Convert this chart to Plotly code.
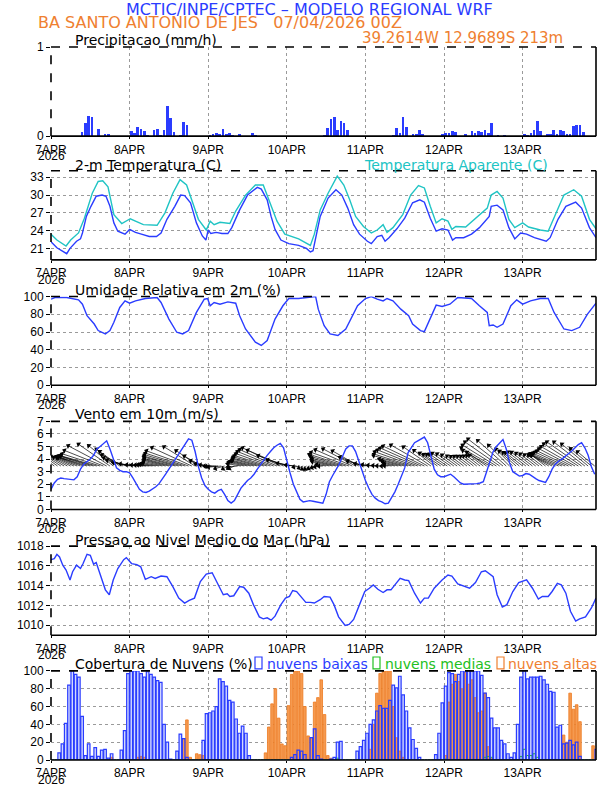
import math
import plotly.graph_objects as go

# ---------------- data ----------------
day_ticks = [0, 24, 48, 72, 96, 120, 144]
day_labels = ["7APR", "8APR", "9APR", "10APR", "11APR", "12APR", "13APR"]
year_label = "2026"
hours = list(range(167))

# precipitation (mm/h), hourly
precip_d1 = [0,0,0,0,0,0,0,0,0,0.05,0.15,0.23,0.22,0,0.08,0,0.02,0.02,0,0,0,0,0,0]
precip_d2 = [0.06,0.04,0.10,0.08,0.06,0.01,0,0.07,0.08,0.015,0.07,0.34,0.20,0.05,0,0.01,0.16,0.12,0,0,0,0,0,0]
precip_d3 = [0.01,0.02,0.03,0.02,0.08,0.02,0.04,0.01,0,0.02,0,0,0,0.03,0.01,0,0,0,0,0,0,0,0,0]
precip_d4 = [0,0,0,0,0,0,0,0,0,0,0,0.01,0.09,0.19,0.22,0.07,0.17,0.15,0.07,0,0,0,0,0]
precip_d5 = [0,0,0,0,0,0,0,0,0.01,0.09,0.04,0.22,0.10,0,0.02,0.02,0.07,0.02,0,0,0,0,0,0.02]
precip_d6 = [0.03,0.03,0.06,0.05,0,0,0.02,0,0.06,0.03,0.06,0.05,0.07,0.03,0.15,0,0.01,0,0.01,0,0,0,0,0]
precip_d7 = [0.02,0.01,0.04,0.07,0.17,0.06,0,0.02,0.02,0.07,0.02,0.07,0.06,0.02,0.02,0.11,0.13,0.13,0.05,0,0,0,0]
precip = precip_d1 + precip_d2 + precip_d3 + precip_d4 + precip_d5 + precip_d6 + precip_d7

# 2-m temperature (C)
temp_h = [0,1.8,4.8,5.8,7.8,9,9.6,10.8,12.2,13.8,15.6,16.8,18,19.2,20.4,22.6,24,25.8,27.6,30,
          32.2,33.6,35.4,37.8,39.6,40.8,42.6,44.4,46.2,47.3,48,48.8,50.4,52.2,54,55.2,57.6,60,63,64.2,
          66,67.2,68.4,70.2,72.6,75.6,78,79.2,80,81,82.2,84.6,87,88.8,90.6,92.4,94.2,96.6,97.8,99.6,
          101,102,103.2,105.6,108,110.4,112.6,114,115.8,117.6,119.4,121.2,122.6,123.6,126,128.4,130.8,133.8,134.4,136.2,
          138,139.8,141.6,143.4,145.2,147.6,151.2,152.4,154.8,157.2,160.2,162,164.4,166.4]
temp_c = [22.1,21.1,20.1,21.0,22.2,22.6,23.6,26.4,28.1,29.8,30.0,29.8,28.1,25.3,23.9,23.4,24.2,23.7,23.4,23.0,
          23.0,23.6,25.9,28.1,30.0,29.9,28.7,25.3,23.1,22.4,24.1,23.5,23.7,23.5,23.5,24.5,27.5,30.0,31.3,31.0,
          29.2,26.4,24.2,22.4,21.8,21.5,21.0,20.4,20.6,23.1,26.4,29.5,30.9,30.0,27.8,25.0,23.4,22.2,21.8,23.0,
          23.2,22.2,22.8,24.3,26.1,28.7,29.2,28.8,26.1,23.9,24.3,24.1,22.4,22.8,22.8,23.4,24.5,26.4,28.1,28.3,
          27.5,24.5,22.6,23.6,23.4,22.8,22.2,22.8,25.9,28.1,28.8,27.8,24.5,22.8]

# apparent temperature (C)
app_h = [0,1.8,4.6,6,8.4,10.2,12.6,14.4,15.8,17.4,19.2,21.6,24.2,28.2,32.4,34.8,37.2,39.4,41.4,43.2,
         45,47.4,48.6,49.8,51.6,54.6,56.4,59.4,62.4,64.8,66.6,69,71.4,75.6,79.2,80.4,82.2,84.6,87.4,89.4,
         91.2,93,95.4,97.8,99.6,101.4,102.6,104.4,107.4,109.8,112.2,114,115.8,117.6,119.4,121.2,122.4,123.6,126.6,129.6,
         133.2,134.4,136.2,138,139.8,141.6,144,145.8,149.4,151.8,154.2,156.6,159.6,162,164.4,166.4]
app_c = [23.4,22.4,21.4,22.4,23.6,26.1,30.3,32.3,32.4,31.4,26.7,25.2,26.0,25.0,24.9,27.0,30.3,32.6,31.7,28.7,
         25.9,24.1,25.6,25.0,25.4,25.2,27.3,30.0,31.7,31.7,29.2,25.6,23.4,22.6,21.5,23.4,27.5,30.3,33.2,31.7,
         29.2,26.4,24.7,23.6,24.1,25.0,23.7,24.5,26.7,30.0,31.6,31.2,28.1,25.3,26.0,25.6,24.2,24.7,24.6,26.1,
         27.8,30.0,30.6,29.5,25.9,24.5,25.3,24.6,24.1,23.9,27.0,30.0,30.9,29.8,25.9,24.3]

# relative humidity (%)
rh_h = [0,1.2,4.8,8.4,9.6,11,13.2,14.4,16.6,18,19.2,21,22.6,24,25.8,28.8,32.4,33.6,36,38.4,
        40.2,42,44.4,46.8,47.8,48.6,49.8,51.6,54,56.4,57.6,59.4,62.4,64.2,66,68.4,70.8,72.6,75.6,79.2,
        80.8,81.6,83.4,85.2,87.6,90,91.8,93.6,96,97.8,99.6,101.4,102.6,104.4,106.8,109.2,110.4,112.8,114,115.8,
        117.6,119.4,121.8,124.2,126.6,128.4,130.8,133.2,133.8,135,136.2,138,140.4,142.2,144,146.4,149.4,151.8,153.6,156.6,
        159,161.4,163.8,166.4]
rh_pct = [97,98.9,98.9,96.3,91.4,78.4,69,61.6,57.8,61.6,70.9,87.7,95.1,92.5,95.1,97.8,98.9,93.3,74.6,59.7,
          57.8,61.6,82.1,97,97.8,89.6,93.3,91.4,94,92.5,78.4,63.4,48.5,44.8,50.4,74.6,89.6,97.8,97.8,98.9,
          100,85.8,67.2,57.8,56,63.4,76.5,89.6,97.8,100,97,95.1,97.8,95.1,85.8,78.4,69,61.6,60.4,74.6,
          90.3,88.8,91.4,98.9,97.8,97.8,89.6,82.1,67.2,67.9,65.3,69,89.6,96.3,91.4,95.1,97.8,97.8,82.1,63.4,
          61.6,65.3,80.2,92.5]

# 10-m wind speed (m/s) and direction (deg, from), hourly
wspd_d1 = [1.6,2.1,2.4,2.5,2.45,2.4,2.4,2.35,2.6,3.2,3.6,3.8,4.0,4.3,4.8,5.0,5.25,5.45,4.8,4.0,3.3,3.1,3.0,3.0]
wspd_d2 = [2.9,2.5,2.0,1.6,1.4,1.35,1.45,1.6,1.8,2.05,2.4,2.8,3.2,3.6,4.1,4.5,4.9,5.25,5.6,5.5,4.6,3.4,2.5,1.9]
wspd_d3 = [1.6,1.4,1.3,1.5,1.6,1.2,0.7,0.5,0.7,1.2,1.7,2.0,2.3,2.5,2.8,3.2,3.6,4.0,4.3,4.6,4.9,5.1,5.25,4.9]
wspd_d4 = [3.8,2.9,2.0,1.35,0.8,0.6,0.65,0.7,0.65,0.6,0.6,0.5,1.2,2.2,2.7,3.1,3.6,4.2,4.8,5.05,5.05,4.6,3.8,3.0]
wspd_d5 = [2.3,1.7,1.2,0.9,0.7,0.6,0.45,0.5,0.9,1.4,2.0,2.6,3.3,4.5,4.9,5.3,5.45,5.6,5.75,5.3,4.2,3.2,2.75,2.6]
wspd_d6 = [2.6,2.7,2.8,2.6,2.35,2.1,2.0,2.0,2.0,2.0,2.05,2.1,2.2,3.0,3.9,4.6,5.0,5.3,5.55,4.8,3.7,3.0,2.8,2.65]
wspd_d7 = [2.7,2.85,2.8,2.6,2.45,2.3,2.2,2.15,2.6,3.2,3.6,3.85,4.0,4.2,4.4,4.65,4.9,5.15,5.3,4.9,4.3,3.4,2.8]
wind_speed = wspd_d1 + wspd_d2 + wspd_d3 + wspd_d4 + wspd_d5 + wspd_d6 + wspd_d7

wdir_d1 = [130,128,126,124,122,120,118,116,114,112,110,108,108,107,106,108,112,118,125,130,130,126,118,110]
wdir_d2 = [104,100,98,96,95,95,96,98,100,102,104,105,105,105,106,106,107,108,110,115,122,125,120,110]
wdir_d3 = [100,95,90,88,85,75,60,55,65,85,100,104,105,105,105,106,106,107,108,110,112,114,116,114]
wdir_d4 = [110,105,100,95,80,65,55,55,60,70,80,90,100,104,105,105,106,107,108,110,114,118,120,112]
wdir_d5 = [105,100,98,96,95,92,90,95,100,104,105,106,106,107,108,110,112,114,116,120,125,128,126,124]
wdir_d6 = [124,124,125,126,126,127,127,128,128,128,128,128,128,125,120,120,122,125,128,132,135,135,132,130]
wdir_d7 = [128,128,128,128,128,128,128,128,122,118,115,114,114,115,116,118,120,123,125,128,130,130,130]
wind_dir = wdir_d1 + wdir_d2 + wdir_d3 + wdir_d4 + wdir_d5 + wdir_d6 + wdir_d7

# mean sea level pressure (hPa)
slp_h = [0,1,1.8,2.6,3.6,4.6,5.8,6.6,7.8,9,9.8,11,12,13,13.8,15,16.6,17.8,19,20.4,
         22.2,23,24.6,26.2,27.4,28.8,30.6,31.8,33.6,35.4,37.2,39,40.8,42.2,43.8,45.6,47.4,49.2,51,52.6,
         53.8,54.6,55.8,57.6,58.8,60.4,61.8,63.6,64.8,66,67.2,68.4,70.2,71.6,72.8,73.8,75,76.2,77.8,79.2,
         80.4,82.2,83.4,85.2,86.4,87.8,89.8,91,92.4,94.2,95.8,97.2,98.4,99.8,101.4,102.6,103.8,105,106.6,108,
         109.2,111,112.8,114,115.2,117,119.4,121.2,122.4,124.2,126,127.8,129.6,131.4,132.6,133.8,135,136.2,137.8,139.2,
         141,142.8,144,145.2,147,148.8,150,151.8,153,154.6,155.8,157.2,158.6,160.2,161.4,163.2,165,166.4]
slp_hpa = [1016.63,1016.73,1017.17,1016.9,1016.07,1015.57,1014.57,1015.4,1016.07,1015.73,
           1016.23,1017.17,1017.07,1016.17,1016.33,1015.23,1013.57,1013.07,1014.57,1015.73,
           1016.63,1016.83,1016.23,1016.13,1015.9,1014.63,1014.9,1014.73,1014.97,1014.9,
           1013.9,1012.73,1012.23,1012.5,1012.73,1014.4,1015.17,1015.3,1014.07,1013.07,
           1013.17,1012.9,1012.97,1013.9,1013.83,1013.23,1012.07,1010.83,1010.63,1010.73,
           1010.5,1010.9,1012.07,1012.73,1012.9,1013.5,1013.4,1012.9,1012.3,1012.3,
           1012.23,1012.57,1012.9,1012.83,1012.07,1010.83,1009.97,1010.07,1010.57,1012.07,
           1013.4,1013.73,1014.07,1013.63,1013.3,1013.57,1013.57,1014.07,1014.73,1014.57,
           1014.5,1013.23,1012.23,1012.73,1012.73,1013.73,1014.57,1015.07,1014.97,1014.17,
           1013.97,1013.73,1014.3,1015.4,1015.5,1015.17,1014.9,1013.07,1011.83,1012.07,
           1013.4,1014.3,1014.4,1014.57,1013.73,1012.63,1012.9,1012.9,1013.4,1014.23,
           1014.07,1013.23,1011.4,1010.4,1010.63,1010.83,1011.73,1012.73]

# cloud cover (%), hourly
low_d1 = [0,0,8,18,41,84,100,96,93,49,5,18,4,14,4,11,12,2,7,0,0,11,33,97]
low_d2 = [100,100,100,97,93,99,96,93,89,87,40,20,1,0,10,29,24,3,0,0,0,0,22,52]
low_d3 = [53,55,60,91,88,83,67,65,46,30,38,30,5,0,0,0,0,0,0,0,0,0,0,0]
low_d4 = [0,3,6,11,10,6,0,25,35,5,1,0,0,1,3,20,21,0,0,0,0,10,15,22]
low_d5 = [30,40,45,55,61,58,58,67,84,81,94,73,55,36,23,13,3,0,0,0,0,6,30,64]
low_d6 = [83,98,97,88,96,100,99,100,100,100,100,95,75,70,47,36,36,22,18,7,3,8,40,93]
low_d7 = [100,91,93,93,93,94,90,85,77,76,37,39,18,19,22,17,20,4,0,0,0,0,12]
cloud_low = low_d1 + low_d2 + low_d3 + low_d4 + low_d5 + low_d6 + low_d7

mid_d1 = [0]*24
mid_d2 = [0]*24
mid_d3 = [0]*24
mid_d4 = [0,0,0,0,0,0,0,0,0,0,0,0,0,0,0,2,0,0,0,0,0,0,0,0]
mid_d5 = [0]*24
mid_d6 = [1,0,0,0,0,0,0,0,0,0,0,0,3,4,3,0,0,0,0,0,0,0,0,4]
mid_d7 = [12,5,5,7,3,0,0,0,0,0,0,0,0,0,0,0,0,0,0,0,0,0,0]
cloud_mid = mid_d1 + mid_d2 + mid_d3 + mid_d4 + mid_d5 + mid_d6 + mid_d7

high_d1 = [0,0,0,0,0,0,0,0,0,0,0,0,0,0,0,0,0,0,3,0,0,0,0,0]
high_d2 = [0,0,3,4,3,0,0,0,0,0,0,0,0,0,0,0,24,45,3,0,7,6,5,0]
high_d3 = [0,0,0,0,0,0,0,0,0,0,0,0,0,0,0,0,0,8,37,63,80,47,18,16]
high_d4 = [61,96,100,100,97,60,27,25,65,70,90,51,5,2,0,0,0,0,0,0,0,0,0,0]
high_d5 = [0,12,40,75,97,100,100,100,60,25,10,3,0,0,0,0,0,0,0,0,0,0,0,0]
high_d6 = [5,65,85,96,88,80,98,85,90,70,53,55,75,15,2,0,0,0,0,0,0,0,0,0]
high_d7 = [0,0,0,0,0,0,0,0,0,0,0,0,28,20,75,57,62,43,0,0,0,16,0]
cloud_high = high_d1 + high_d2 + high_d3 + high_d4 + high_d5 + high_d6 + high_d7

# ---------------- layout geometry ----------------
W, H = 612, 792
ML, MR, MT, MB = 51, 16, 47, 25
PW = W - ML - MR
PH = H - MT - MB
XMAX = 166.4


def fx(p):
    return (p - ML) / PW


def fy(p):
    return (H - MB - p) / PH


panels = [(47, 137), (172, 262), (299, 388.5), (425, 514), (551, 641), (677, 767)]
yranges = [[0, 1], [19.05, 34.1], [0, 100], [0, 7], [1008.97, 1018], [0, 100]]
yticks = [[0, 1], [21, 24, 27, 30, 33], [0, 20, 40, 60, 80, 100],
          [0, 1, 2, 3, 4, 5, 6, 7], [1010, 1012, 1014, 1016, 1018], [0, 20, 40, 60, 80, 100]]

BLUE = "#2a3cff"
CYAN = "#20c4c4"
ORANGE = "#ef8030"
GREEN = "#22c022"
GRID = "#9a9a9a"
TFONT = "DejaVu Sans"
XTF = dict(family="Liberation Sans Narrow, Liberation Sans, sans-serif", size=12, color="black")
YTF = dict(family="Liberation Sans, sans-serif", size=12, color="black")

fig = go.Figure()
bar_x = [h + 0.5 for h in hours]

# panel 1: precipitation
fig.add_trace(go.Bar(x=bar_x, y=precip, width=0.8, marker=dict(color=BLUE, line=dict(width=0)),
                     xaxis="x", yaxis="y"))

# panel 2: temperatures
fig.add_trace(go.Scatter(x=app_h, y=app_c, mode="lines", line=dict(color=CYAN, width=1.4),
                         xaxis="x2", yaxis="y2"))
fig.add_trace(go.Scatter(x=temp_h, y=temp_c, mode="lines", line=dict(color=BLUE, width=1.4),
                         xaxis="x2", yaxis="y2"))

# panel 3: RH
fig.add_trace(go.Scatter(x=rh_h, y=rh_pct, mode="lines", line=dict(color=BLUE, width=1.4),
                         xaxis="x3", yaxis="y3"))

# panel 4: wind vectors + speed
K = 8.0  # px per m/s
PXH = PW / XMAX
PXV = (panels[3][1] - panels[3][0]) / 7.0
BASE = 3.45
sx, sy, tx, ty, ang = [], [], [], [], []
for h, s, d in zip(hours, wind_speed, wind_dir):
    u = -s * math.sin(math.radians(d))
    v = -s * math.cos(math.radians(d))
    ex = h + u * K / PXH
    ey = BASE + v * K / PXV
    sx += [h, ex, None]
    sy += [BASE, ey, None]
    tx.append(ex)
    ty.append(ey)
    ang.append(math.degrees(math.atan2(u, v)))
fig.add_trace(go.Scatter(x=sx, y=sy, mode="lines", line=dict(color="black", width=0.7),
                         xaxis="x4", yaxis="y4"))
fig.add_trace(go.Scatter(x=tx, y=ty, mode="markers",
                         marker=dict(symbol="triangle-up", size=5, angle=ang, color="black", line=dict(width=0)),
                         xaxis="x4", yaxis="y4"))
fig.add_trace(go.Scatter(x=hours, y=wind_speed, mode="lines", line=dict(color=BLUE, width=1.4),
                         xaxis="x4", yaxis="y4"))

# panel 5: pressure
fig.add_trace(go.Scatter(x=slp_h, y=slp_hpa, mode="lines", line=dict(color=BLUE, width=1.4),
                         xaxis="x5", yaxis="y5"))

# panel 6: clouds
fig.add_trace(go.Bar(x=bar_x, y=cloud_low, width=0.8, marker=dict(color="#d2d8ff", line=dict(width=0)),
                     xaxis="x6", yaxis="y6"))
fig.add_trace(go.Bar(x=bar_x, y=cloud_high, width=0.8,
                     marker=dict(color="#f59a50", line=dict(color="#ee7a20", width=0.8)),
                     xaxis="x6", yaxis="y6"))
fig.add_trace(go.Bar(x=bar_x, y=cloud_mid, width=0.8,
                     marker=dict(color="rgba(0,0,0,0)", line=dict(color=GREEN, width=1.0)),
                     xaxis="x6", yaxis="y6"))
fig.add_trace(go.Bar(x=bar_x, y=cloud_low, width=0.8,
                     marker=dict(color="rgba(0,0,0,0)", line=dict(color=BLUE, width=1.2)),
                     xaxis="x6", yaxis="y6"))

layout = dict(width=W, height=H, margin=dict(l=ML, r=MR, t=MT, b=MB, pad=0),
              paper_bgcolor="white", plot_bgcolor="white", showlegend=False,
              barmode="overlay", bargap=0)
shapes = []
annotations = []
for i, ((top, bot), yr, yt) in enumerate(zip(panels, yranges, yticks), start=1):
    sfx = "" if i == 1 else str(i)
    layout["xaxis" + sfx] = dict(domain=[0, 1], range=[0, XMAX], anchor="y" + sfx,
                                 tickmode="array", tickvals=day_ticks, ticktext=day_labels,
                                 showgrid=True, gridcolor=GRID, griddash="dot", gridwidth=1,
                                 ticks="outside", ticklen=2, tickcolor="black", tickfont=XTF,
                                 zeroline=False, showline=False)
    layout["yaxis" + sfx] = dict(domain=[fy(bot), fy(top)], range=yr, anchor="x" + sfx,
                                 tickmode="array", tickvals=yt, showgrid=(i != 1),
                                 gridcolor=GRID, griddash="dot", gridwidth=1,
                                 ticks="outside", ticklen=4, tickcolor="black", tickfont=YTF,
                                 zeroline=False, showline=False)
    xd = "x" + sfx + " domain"
    yd = "y" + sfx + " domain"
    shapes.append(dict(type="line", xref=xd, yref=yd, x0=0, x1=1, y0=0, y1=0,
                       line=dict(color="black", width=1.6)))
    shapes.append(dict(type="line", xref=xd, yref=yd, x0=1, x1=1, y0=0, y1=1,
                       line=dict(color="black", width=1.6)))
    shapes.append(dict(type="line", xref=xd, yref=yd, x0=0, x1=1, y0=1, y1=1,
                       line=dict(color="black", width=1.6, dash="dash")))
    shapes.append(dict(type="line", xref=xd, yref=yd, x0=0, x1=0, y0=0, y1=1,
                       line=dict(color="black", width=1.6, dash="dash")))
    annotations.append(dict(text=year_label, xref="x" + sfx, x=0, yref="paper", y=fy(bot + 20),
                            xanchor="center", yanchor="middle", showarrow=False, font=XTF))

layout["shapes"] = shapes


def label(text, xp, yp, color="black", size=14, anchor="left"):
    annotations.append(dict(text=text, xref="paper", yref="paper", x=fx(xp), y=fy(yp),
                            xanchor=anchor, yanchor="middle", showarrow=False,
                            font=dict(family=TFONT, size=size, color=color)))


label("MCTIC/INPE/CPTEC \u2013 MODELO REGIONAL WRF", 309, 9, BLUE, 16, "center")
label("BA SANTO ANTONIO DE JES \u00a0\u00a007/04/2026 00Z", 36, 22, ORANGE, 16)
label("39.2614W 12.9689S 213m", 565, 38, ORANGE, 15, "right")
label("Precipitacao (mm/h)", 73, 40)
label("2-m Temperatura (C)", 73, 166)
label("Temperatura Aparente (C)", 362, 166, CYAN)
label("Umidade Relativa em 2m (%)", 73, 292)
label("Vento em 10m (m/s)", 73, 418)
label("Pressao ao Nivel Medio do Mar (hPa)", 73, 545)
label("Cobertura de Nuvens (%)", 73, 670)
label("nuvens baixas", 265, 670, BLUE)
label("nuvens medias", 383, 670, GREEN)
label("nuvens altas", 506, 670, ORANGE)
for x0, col in [(255, BLUE), (373, GREEN), (497, ORANGE)]:
    shapes.append(dict(type="rect", xref="paper", yref="paper", x0=fx(x0), x1=fx(x0 + 7),
                       y0=fy(675), y1=fy(663), line=dict(color=col, width=1.2),
                       fillcolor="rgba(0,0,0,0)"))

layout["annotations"] = annotations
fig.update_layout(**layout)
fig.write_html("out.html", config={"displayModeBar": False, "staticPlot": True},
               post_script="document.body.style.margin='0px';document.body.style.overflow='hidden';")
